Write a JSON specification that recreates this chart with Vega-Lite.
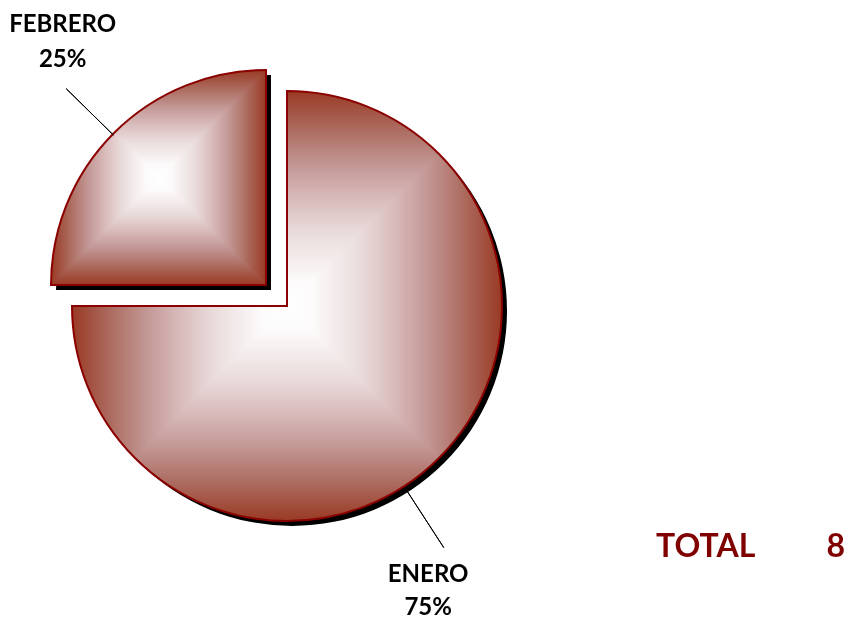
{
  "$schema": "https://vega.github.io/schema/vega-lite/v6.json",
  "width": 574,
  "height": 612,
  "padding": 0,
  "background": "white",
  "config": {"view": {"stroke": null}},
  "data": {"values": [
    {"mes": "ENERO", "casos": 6, "porcentaje": 0.75},
    {"mes": "FEBRERO", "casos": 2, "porcentaje": 0.25}
  ]},
  "layer": [
    {
      "mark": {"type": "arc", "radius": 215, "fill": "black", "xOffset": 5, "yOffset": 5},
      "encoding": {
        "theta": {"field": "casos", "type": "quantitative", "stack": true},
        "order": {"field": "mes", "type": "ordinal"},
        "opacity": {"condition": {"test": "datum.mes === 'ENERO'", "value": 1}, "value": 0}
      }
    },
    {
      "mark": {"type": "arc", "radius": 215,
        "fill": {"gradient": "linear", "x1": 0, "y1": 0, "x2": 1, "y2": 0,
          "stops": [
            {"offset": 0, "color": "#993A24"},
            {"offset": 0.04, "color": "#A2503F"},
            {"offset": 0.1, "color": "#AF7166"},
            {"offset": 0.175, "color": "#C39896"},
            {"offset": 0.25, "color": "#D8BABA"},
            {"offset": 0.325, "color": "#E9DADA"},
            {"offset": 0.44, "color": "#FCFAFA"},
            {"offset": 0.5, "color": "#FFFFFF"},
            {"offset": 0.56, "color": "#FCFAFA"},
            {"offset": 0.675, "color": "#E9DADA"},
            {"offset": 0.75, "color": "#D8BABA"},
            {"offset": 0.825, "color": "#C39896"},
            {"offset": 0.9, "color": "#AF7166"},
            {"offset": 0.96, "color": "#A2503F"},
            {"offset": 1, "color": "#993A24"}
          ]}},
      "encoding": {
        "theta": {"field": "casos", "type": "quantitative", "stack": true},
        "order": {"field": "mes", "type": "ordinal"},
        "opacity": {"condition": {"test": "datum.mes === 'ENERO'", "value": 1}, "value": 0}
      }
    },
    {
      "mark": {"type": "arc", "radius": 215, "blend": "darken",
        "fill": {"gradient": "linear", "x1": 0, "y1": 0, "x2": 0, "y2": 1,
          "stops": [
            {"offset": 0, "color": "#993A24"},
            {"offset": 0.04, "color": "#A2503F"},
            {"offset": 0.1, "color": "#AF7166"},
            {"offset": 0.175, "color": "#C39896"},
            {"offset": 0.25, "color": "#D8BABA"},
            {"offset": 0.325, "color": "#E9DADA"},
            {"offset": 0.44, "color": "#FCFAFA"},
            {"offset": 0.5, "color": "#FFFFFF"},
            {"offset": 0.56, "color": "#FCFAFA"},
            {"offset": 0.675, "color": "#E9DADA"},
            {"offset": 0.75, "color": "#D8BABA"},
            {"offset": 0.825, "color": "#C39896"},
            {"offset": 0.9, "color": "#AF7166"},
            {"offset": 0.96, "color": "#A2503F"},
            {"offset": 1, "color": "#993A24"}
          ]}},
      "encoding": {
        "theta": {"field": "casos", "type": "quantitative", "stack": true},
        "order": {"field": "mes", "type": "ordinal"},
        "opacity": {"condition": {"test": "datum.mes === 'ENERO'", "value": 1}, "value": 0}
      }
    },
    {
      "mark": {"type": "arc", "radius": 215, "fill": null, "stroke": "#8B0000", "strokeWidth": 2, "strokeJoin": "miter"},
      "encoding": {
        "theta": {"field": "casos", "type": "quantitative", "stack": true},
        "order": {"field": "mes", "type": "ordinal"},
        "opacity": {"condition": {"test": "datum.mes === 'ENERO'", "value": 1}, "value": 0}
      }
    },
    {
      "mark": {"type": "arc", "radius": 215, "fill": "black", "xOffset": -16, "yOffset": -16},
      "encoding": {
        "theta": {"field": "casos", "type": "quantitative", "stack": true},
        "order": {"field": "mes", "type": "ordinal"},
        "opacity": {"condition": {"test": "datum.mes === 'FEBRERO'", "value": 1}, "value": 0}
      }
    },
    {
      "mark": {"type": "arc", "radius": 215, "xOffset": -21, "yOffset": -21,
        "fill": {"gradient": "linear", "x1": 0, "y1": 0, "x2": 1, "y2": 0,
          "stops": [
            {"offset": 0, "color": "#993A24"},
            {"offset": 0.04, "color": "#A2503F"},
            {"offset": 0.1, "color": "#AF7166"},
            {"offset": 0.175, "color": "#C39896"},
            {"offset": 0.25, "color": "#D8BABA"},
            {"offset": 0.325, "color": "#E9DADA"},
            {"offset": 0.44, "color": "#FCFAFA"},
            {"offset": 0.5, "color": "#FFFFFF"},
            {"offset": 0.56, "color": "#FCFAFA"},
            {"offset": 0.675, "color": "#E9DADA"},
            {"offset": 0.75, "color": "#D8BABA"},
            {"offset": 0.825, "color": "#C39896"},
            {"offset": 0.9, "color": "#AF7166"},
            {"offset": 0.96, "color": "#A2503F"},
            {"offset": 1, "color": "#993A24"}
          ]}},
      "encoding": {
        "theta": {"field": "casos", "type": "quantitative", "stack": true},
        "order": {"field": "mes", "type": "ordinal"},
        "opacity": {"condition": {"test": "datum.mes === 'FEBRERO'", "value": 1}, "value": 0}
      }
    },
    {
      "mark": {"type": "arc", "radius": 215, "xOffset": -21, "yOffset": -21, "blend": "darken",
        "fill": {"gradient": "linear", "x1": 0, "y1": 0, "x2": 0, "y2": 1,
          "stops": [
            {"offset": 0, "color": "#993A24"},
            {"offset": 0.04, "color": "#A2503F"},
            {"offset": 0.1, "color": "#AF7166"},
            {"offset": 0.175, "color": "#C39896"},
            {"offset": 0.25, "color": "#D8BABA"},
            {"offset": 0.325, "color": "#E9DADA"},
            {"offset": 0.44, "color": "#FCFAFA"},
            {"offset": 0.5, "color": "#FFFFFF"},
            {"offset": 0.56, "color": "#FCFAFA"},
            {"offset": 0.675, "color": "#E9DADA"},
            {"offset": 0.75, "color": "#D8BABA"},
            {"offset": 0.825, "color": "#C39896"},
            {"offset": 0.9, "color": "#AF7166"},
            {"offset": 0.96, "color": "#A2503F"},
            {"offset": 1, "color": "#993A24"}
          ]}},
      "encoding": {
        "theta": {"field": "casos", "type": "quantitative", "stack": true},
        "order": {"field": "mes", "type": "ordinal"},
        "opacity": {"condition": {"test": "datum.mes === 'FEBRERO'", "value": 1}, "value": 0}
      }
    },
    {
      "mark": {"type": "arc", "radius": 215, "xOffset": -21, "yOffset": -21, "fill": null, "stroke": "#8B0000", "strokeWidth": 2, "strokeJoin": "miter"},
      "encoding": {
        "theta": {"field": "casos", "type": "quantitative", "stack": true},
        "order": {"field": "mes", "type": "ordinal"},
        "opacity": {"condition": {"test": "datum.mes === 'FEBRERO'", "value": 1}, "value": 0}
      }
    },
    {
      "transform": [{"filter": "datum.mes === 'FEBRERO'"}],
      "mark": {"type": "arc", "theta": 5.489, "theta2": 5.489, "radius": 214, "radius2": 280, "xOffset": -21, "yOffset": -21, "fill": null, "stroke": "black", "strokeWidth": 1},
      "encoding": {}
    },
    {
      "transform": [{"filter": "datum.mes === 'ENERO'"}],
      "mark": {"type": "arc", "theta": 2.566, "theta2": 2.566, "radius": 221, "radius2": 288, "fill": null, "stroke": "black", "strokeWidth": 1},
      "encoding": {}
    },
    {
      "mark": {"type": "text", "radius": 330, "dx": 9, "dy": -41, "font": "Lato", "fontWeight": "bold", "fontSize": 24, "baseline": "alphabetic", "align": "center", "color": "black"},
      "encoding": {
        "theta": {"field": "casos", "type": "quantitative", "stack": true},
        "order": {"field": "mes", "type": "ordinal"},
        "text": {"condition": {"test": "datum.mes === 'FEBRERO'", "field": "mes"}, "value": ""}
      }
    },
    {
      "mark": {"type": "text", "radius": 330, "dx": 9, "dy": -6, "font": "Lato", "fontWeight": "bold", "fontSize": 24, "baseline": "alphabetic", "align": "center", "color": "black"},
      "encoding": {
        "theta": {"field": "casos", "type": "quantitative", "stack": true},
        "order": {"field": "mes", "type": "ordinal"},
        "text": {"condition": {"test": "datum.mes === 'FEBRERO'", "field": "porcentaje", "type": "quantitative", "format": ".0%"}, "value": ""}
      }
    },
    {
      "mark": {"type": "text", "radius": 300, "dx": -71, "dy": 64, "font": "Lato", "fontWeight": "bold", "fontSize": 24, "baseline": "alphabetic", "align": "center", "color": "black"},
      "encoding": {
        "theta": {"field": "casos", "type": "quantitative", "stack": true},
        "order": {"field": "mes", "type": "ordinal"},
        "text": {"condition": {"test": "datum.mes === 'ENERO'", "field": "mes"}, "value": ""}
      }
    },
    {
      "mark": {"type": "text", "radius": 300, "dx": -71, "dy": 97, "font": "Lato", "fontWeight": "bold", "fontSize": 24, "baseline": "alphabetic", "align": "center", "color": "black"},
      "encoding": {
        "theta": {"field": "casos", "type": "quantitative", "stack": true},
        "order": {"field": "mes", "type": "ordinal"},
        "text": {"condition": {"test": "datum.mes === 'ENERO'", "field": "porcentaje", "type": "quantitative", "format": ".0%"}, "value": ""}
      }
    },
    {
      "transform": [{"aggregate": [{"op": "sum", "field": "casos", "as": "total"}]}],
      "mark": {"type": "text", "text": "TOTAL", "dx": 369, "dy": 251, "font": "Lato", "fontWeight": "bold", "fontSize": 32, "baseline": "alphabetic", "align": "left", "color": "#800000"},
      "encoding": {}
    },
    {
      "transform": [{"aggregate": [{"op": "sum", "field": "casos", "as": "total"}]}],
      "mark": {"type": "text", "dx": 558, "dy": 251, "font": "Lato", "fontWeight": "bold", "fontSize": 32, "baseline": "alphabetic", "align": "right", "color": "#800000"},
      "encoding": {"text": {"field": "total", "type": "quantitative"}}
    }
  ]
}
